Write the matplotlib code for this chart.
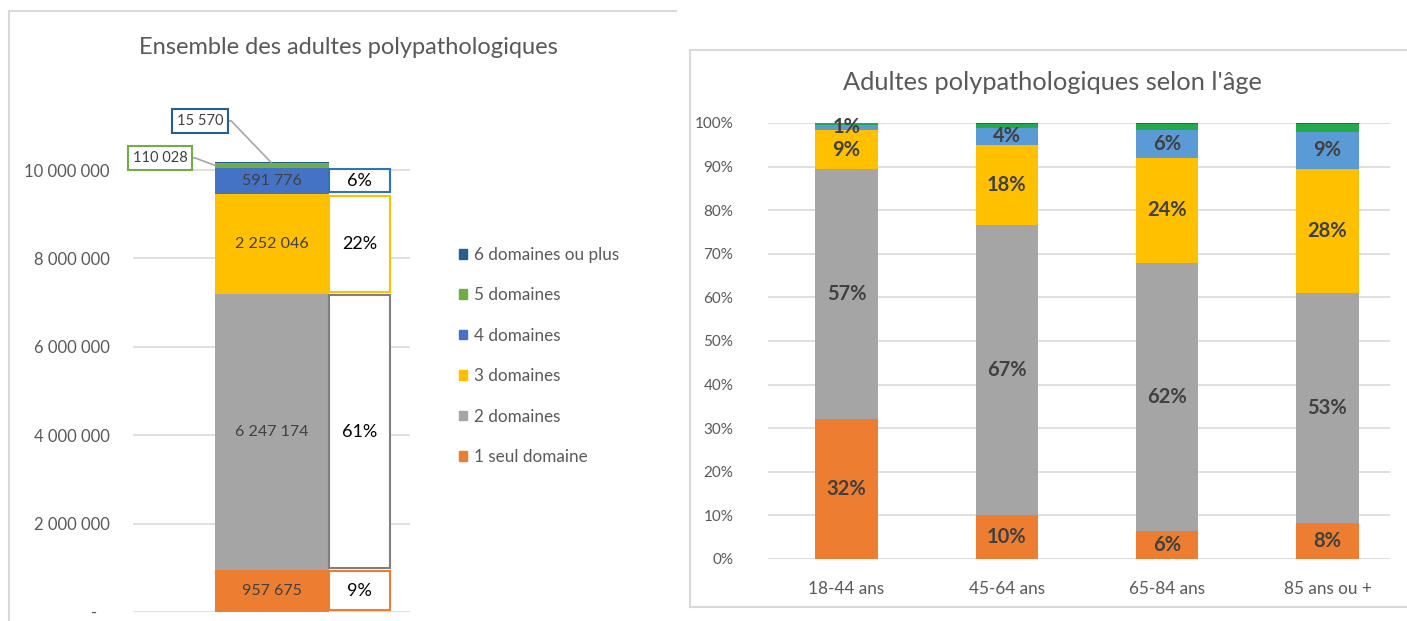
"""Two stacked-bar panels: multimorbid adults overall and by age group."""

import matplotlib
matplotlib.use("Agg")
import matplotlib.pyplot as plt
import numpy as np
from matplotlib.lines import Line2D
from matplotlib.patches import Patch
from matplotlib.ticker import FuncFormatter

plt.rcParams["font.family"] = ["Lato", "DejaVu Sans"]

W, H = 1407, 621

# ---- data ----
domain_labels = ["1 seul domaine", "2 domaines", "3 domaines",
                 "4 domaines", "5 domaines", "6 domaines ou plus"]
total_counts = [957675, 6247174, 2252046, 591776, 110028, 15570]
total_pct_labels = ["9%", "61%", "22%", "6%"]

age_groups = ["18-44 ans", "45-64 ans", "65-84 ans", "85 ans ou +"]
age_shares = {
    "1 seul domaine": [32.1, 10.1, 6.4, 8.3],
    "2 domaines": [57.3, 66.5, 61.5, 52.7],
    "3 domaines": [9.0, 18.4, 24.1, 28.4],
    "4 domaines": [1.2, 3.9, 6.3, 8.6],
    "5 domaines": [0.3, 0.9, 1.5, 1.8],
    "6 domaines ou plus": [0.1, 0.2, 0.2, 0.2],
}
age_pct_labels = {
    "1 seul domaine": ["32%", "10%", "6%", "8%"],
    "2 domaines": ["57%", "67%", "62%", "53%"],
    "3 domaines": ["9%", "18%", "24%", "28%"],
    "4 domaines": ["1%", "4%", "6%", "9%"],
}

left_colors = ["#ED7D31", "#A5A5A5", "#FFC000", "#4472C4", "#70AD47", "#255E91"]
right_colors = ["#ED7D31", "#A5A5A5", "#FFC000", "#5B9BD5", "#22A94A", "#255E91"]
box_edges = ["#ED7D31", "#7F7F7F", "#FFC000", "#2E75B6"]
TXT = "#404040"
GRID = "#D9D9D9"


def px_axes(fig, x0, y0, x1, y1):
    """Axes from pixel box (top-left origin)."""
    return fig.add_axes([x0 / W, 1 - y1 / H, (x1 - x0) / W, (y1 - y0) / H])


def thousands(v, _pos=None):
    if v == 0:
        return "-   "
    return f"{int(v):,}".replace(",", " ")


fig = plt.figure(figsize=(W / 100, H / 100), dpi=100)

# panel borders
fig.add_artist(Line2D([9 / W, 676 / W], [1 - 11 / H, 1 - 11 / H], color=GRID, lw=1.5))
fig.add_artist(Line2D([9 / W, 9 / W], [1 - 11 / H, 0], color=GRID, lw=1.5))
fig.add_artist(Line2D([690 / W, 1407 / W], [1 - 50 / H, 1 - 50 / H], color=GRID, lw=1.5))
fig.add_artist(Line2D([690 / W, 690 / W], [1 - 50 / H, 1 - 607 / H], color=GRID, lw=1.5))
fig.add_artist(Line2D([690 / W, 1407 / W], [1 - 607 / H, 1 - 607 / H], color=GRID, lw=1.5))

# ---- left panel ----
ax = px_axes(fig, 133, 100, 410, 612)
ax.set_xlim(0, 1)
ax.set_ylim(0, 512 / 442 * 1e7)
ax.set_yticks(np.arange(0, 1.01e7, 2e6))
ax.yaxis.set_major_formatter(FuncFormatter(thousands))
ax.set_xticks([])
ax.grid(axis="y", color=GRID, lw=1.2)
ax.set_axisbelow(True)
for s in ax.spines.values():
    s.set_visible(False)
ax.tick_params(axis="y", length=0, pad=17, labelsize=12, labelcolor="#595959")

bar_x, bar_w = 0.502, 0.412
box_x, box_w = 0.818, 0.22
bottom = 0
for i, (lab, val) in enumerate(zip(domain_labels, total_counts)):
    ax.bar(bar_x, val, bar_w, bottom=bottom, color=left_colors[i],
           label=lab, zorder=3)
    if i < 4:
        ax.text(bar_x, bottom + val / 2, thousands(val), ha="center",
                va="center", fontsize=11.5, color=TXT, zorder=5)
        pad = 35000
        ax.bar(box_x, val - 2 * pad, box_w, bottom=bottom + pad, color="white",
               edgecolor=box_edges[i], linewidth=1.5, zorder=3)
        ax.text(box_x, bottom + val / 2, total_pct_labels[i], ha="center",
                va="center", fontsize=13, color="black", zorder=5)
    bottom += val

# callouts for the two thin top segments
cum = np.cumsum(total_counts)
ax.annotate(thousands(total_counts[4]), xy=(0.296, cum[4] - total_counts[4] / 2),
            xytext=(0.0975, 1.027e7), ha="center", va="center", fontsize=10.5,
            color=TXT, annotation_clip=False, zorder=6,
            bbox=dict(boxstyle="square,pad=0.35", fc="white", ec="#70AD47", lw=1.5),
            arrowprops=dict(arrowstyle="-", color="#A6A6A6", lw=1.2, relpos=(1, 0.5),
                            shrinkA=0, shrinkB=0,
                            connectionstyle="arc,angleA=0,angleB=0,armA=8,armB=0,rad=0"))
ax.annotate(thousands(total_counts[5]), xy=(0.498, cum[5]),
            xytext=(0.242, 1.111e7), ha="center", va="center", fontsize=10.5,
            color=TXT, annotation_clip=False, zorder=6,
            bbox=dict(boxstyle="square,pad=0.35", fc="white", ec="#255E91", lw=1.5),
            arrowprops=dict(arrowstyle="-", color="#A6A6A6", lw=1.2, relpos=(1, 0.5),
                            shrinkA=0, shrinkB=0,
                            connectionstyle="arc,angleA=0,angleB=0,armA=8,armB=0,rad=0"))

fig.text(348 / W, 1 - 48 / H, "Ensemble des adultes polypathologiques",
         ha="center", va="center", fontsize=17, color="#595959")

handles = [Patch(color=c, label=l) for c, l in zip(left_colors, domain_labels)][::-1]
fig.legend(handles=handles, loc="upper left", bbox_to_anchor=(452 / W, 1 - 240 / H),
           frameon=False, fontsize=12.3, labelcolor="#595959", handlelength=0.5,
           handleheight=0.5, handletextpad=0.4, labelspacing=1.43, borderaxespad=0)

# ---- right panel ----
ax2 = px_axes(fig, 768, 123, 1390, 559)
x = np.arange(len(age_groups))
bw = 0.39
bottoms = np.zeros(len(age_groups))
for i, lab in enumerate(domain_labels):
    vals = np.array(age_shares[lab])
    ax2.bar(x, vals, bw, bottom=bottoms, color=right_colors[i], zorder=3)
    if lab in age_pct_labels:
        for xi, v, b, t in zip(x, vals, bottoms, age_pct_labels[lab]):
            ax2.text(xi, b + v / 2, t, ha="center", va="center", fontsize=14.5,
                     fontweight="bold", color=TXT, zorder=5)
    bottoms += vals

ax2.set_xlim(-0.49, 3.39)
ax2.set_ylim(0, 100)
ax2.set_yticks(np.arange(0, 101, 10))
ax2.yaxis.set_major_formatter(FuncFormatter(lambda v, _p: f"{v:.0f}%"))
ax2.set_xticks(x)
ax2.set_xticklabels(age_groups)
ax2.grid(axis="y", color=GRID, lw=1.2)
ax2.set_axisbelow(True)
for s in ax2.spines.values():
    s.set_visible(False)
ax2.tick_params(axis="y", length=0, pad=25, labelsize=11, labelcolor="#595959")
ax2.tick_params(axis="x", length=0, pad=16, labelsize=12.3, labelcolor="#595959")

fig.text(1052 / W, 1 - 82 / H, "Adultes polypathologiques selon l'âge",
         ha="center", va="center", fontsize=18.3, color="#595959")

fig.savefig("out.png", dpi=100)
